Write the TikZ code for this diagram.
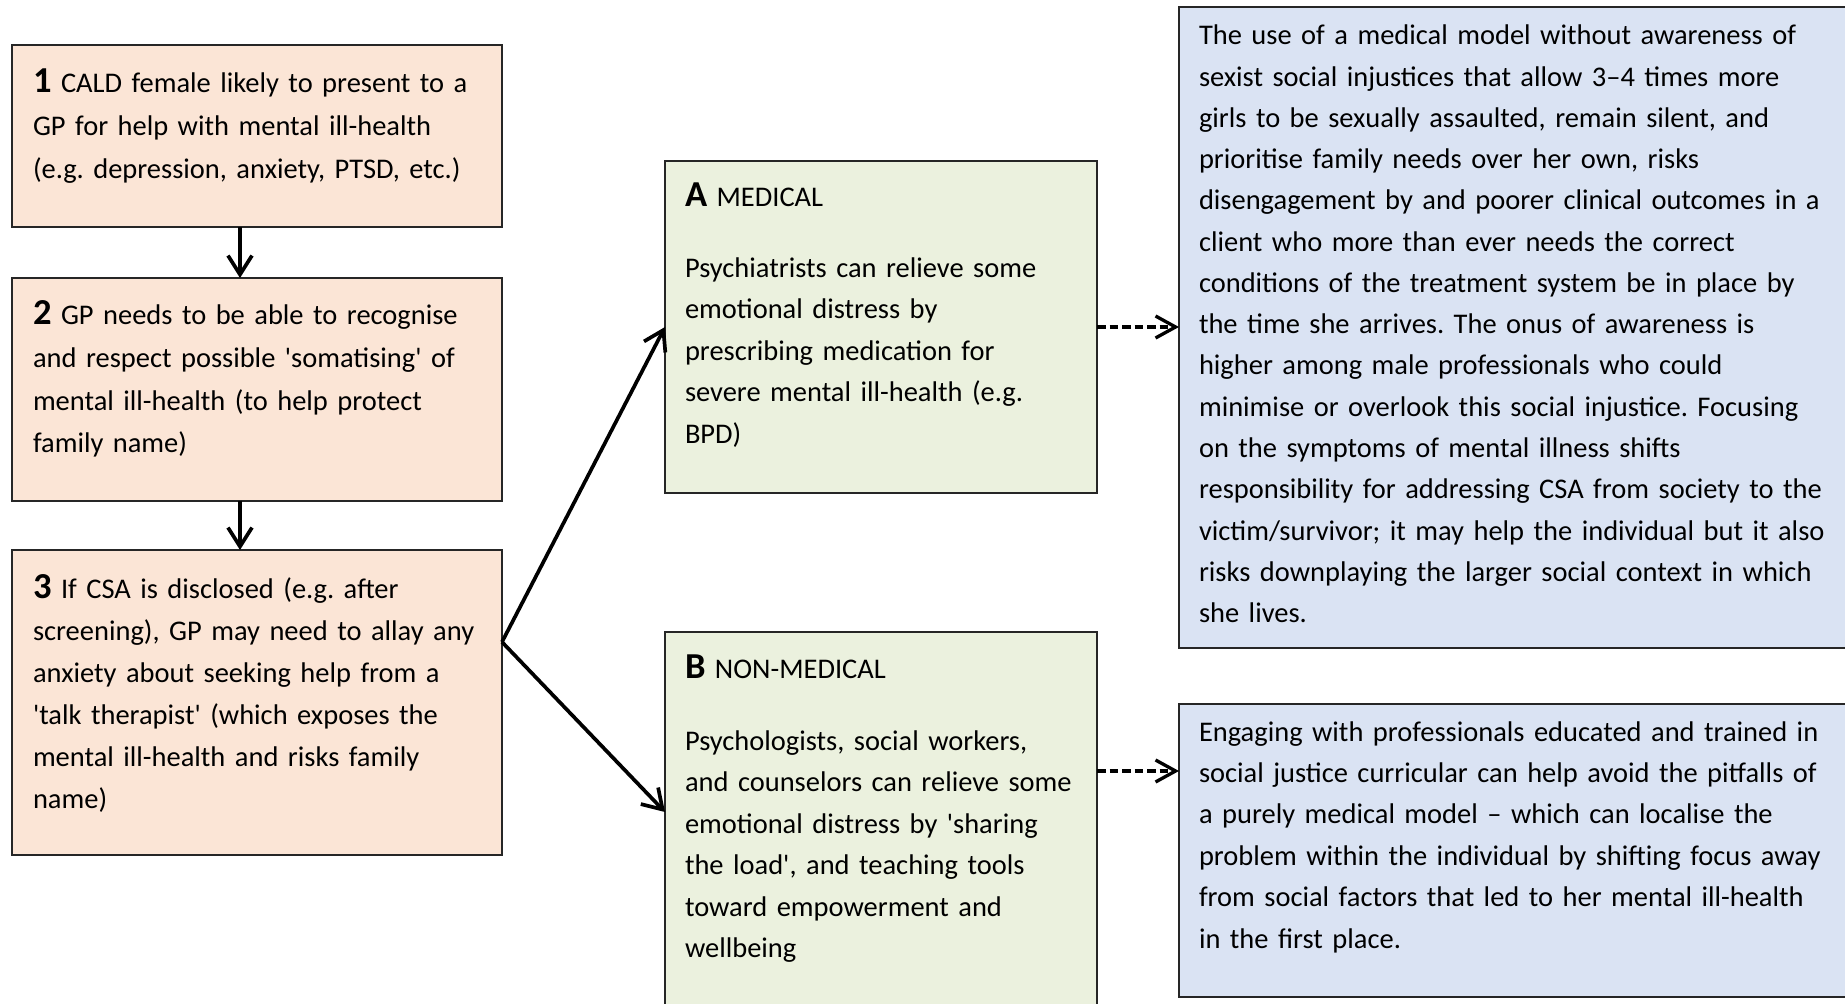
\documentclass[tikz,border=0pt]{standalone}
\usepackage{fontspec}
\setmainfont{Carlito}
\usepackage{xcolor}
\usetikzlibrary{arrows.meta, positioning, calc}
\definecolor{pastelpeach}{HTML}{FBE5D6}
\definecolor{pastelolive}{HTML}{EBF1DE}
\definecolor{pastelblue}{HTML}{DAE3F3}
\newcommand{\squote}{\textquotesingle}
\newcommand{\bignum}[1]{{\fontsize{10.4}{11.8}\selectfont\bfseries #1}}
\frenchspacing

\begin{document}
\begin{tikzpicture}[x=0.1mm, y=-0.1mm,
	every node/.style={inner sep=0pt, outer sep=0pt},
	stepbox/.style={draw=black!85, line width=0.4pt, fill=pastelpeach, anchor=north west, minimum width=49mm},
	carebox/.style={draw=black!85, line width=0.4pt, fill=pastelolive, anchor=north west, minimum width=43.2mm},
	notebox/.style={draw=black!85, line width=0.4pt, fill=pastelblue, anchor=north west, minimum width=70mm},
	boxtext/.style={anchor=north west, align=left, text width=#1, font=\fontsize{8.1}{11.8}\selectfont},
	steptext/.style={boxtext=#1, font=\fontsize{8.1}{12.15}\selectfont},
	flow/.style={line width=1.05pt, -{Straight Barb[length=1.9mm, width=2.4mm]}},
	link/.style={line width=0.95pt, dash pattern=on 0.85mm off 0.4mm, -{Straight Barb[length=2mm, width=2.2mm]}}]
	\useasboundingbox (0,0) rectangle (1845,1004);
	\clip (0,0) rectangle (1845,1004);

	% left column: steps
	\node[stepbox, minimum height=18.2mm] (p1) at (12,45) {};
	\node[stepbox, minimum height=22.3mm] (p2) at (12,278) {};
	\node[stepbox, minimum height=30.5mm] (p3) at (12,550) {};
	\node[steptext=55mm] (t1) at (33,63) {\strut\bignum{1} CALD female likely to present to a\\ GP for help with mental ill-health\\ (e.g. depression, anxiety, PTSD, etc.)};
	\node[steptext=55mm] (t2) at (33,295) {\strut\bignum{2} GP needs to be able to recognise\\ and respect possible \squote somatising\squote{} of\\ mental ill-health (to help protect\\ family name)};
	\node[steptext=55mm, font=\fontsize{8.1}{11.95}\selectfont] (t3) at (33,569) {\strut\bignum{3} If CSA is disclosed (e.g. after\\ screening), GP may need to allay any\\ anxiety about seeking help from a\\ \squote talk therapist\squote{} (which exposes the\\ mental ill-health and risks family\\ name)};

	% middle column: options
	\node[carebox, minimum height=33.2mm] (A) at (665,161) {};
	\node[carebox, minimum height=40mm] (B) at (665,632) {};
	\node[boxtext=48mm] (tA) at (685,177) {\strut\bignum{A} MEDICAL\\[3mm] Psychiatrists can relieve some\\ emotional distress by\\ prescribing medication for\\ severe mental ill-health (e.g.\\ BPD)};
	\node[boxtext=48mm] (tB) at (685,649) {\strut\bignum{B} NON-MEDICAL\\[3.1mm] Psychologists, social workers,\\ and counselors can relieve some\\ emotional distress by \squote sharing\\ the load\squote, and teaching tools\\ toward empowerment and\\ wellbeing};

	% right column: notes
	\node[notebox, minimum height=64.1mm] (T) at (1179,7) {};
	\node[notebox, minimum height=29.3mm] (S) at (1179,704) {};
	\node[boxtext=70mm, font=\fontsize{8.1}{11.74}\selectfont] (tT) at (1199,16) {\strut The use of a medical model without awareness of\\ sexist social injustices that allow 3--4 times more\\ girls to be sexually assaulted, remain silent, and\\ prioritise family needs over her own, risks\\ disengagement by and poorer clinical outcomes in a\\ client who more than ever needs the correct\\ conditions of the treatment system be in place by\\ the time she arrives. The onus of awareness is\\ higher among male professionals who could\\ minimise or overlook this social injustice. Focusing\\ on the symptoms of mental illness shifts\\ responsibility for addressing CSA from society to the\\ victim/survivor; it may help the individual but it also\\ risks downplaying the larger social context in which\\ she lives.};
	\node[boxtext=70mm] (tS) at (1199,712) {\strut Engaging with professionals educated and trained in\\ social justice curricular can help avoid the pitfalls of\\ a purely medical model -- which can localise the\\ problem within the individual by shifting focus away\\ from social factors that led to her mental ill-health\\ in the first place.};

	% connectors
	\draw[flow] ([xshift=-1.7mm]p1.south) -- ([xshift=-1.7mm]p2.north);
	\draw[flow] ([xshift=-1.7mm]p2.south) -- ([xshift=-1.7mm]p3.north);
	\coordinate (fork) at ([yshift=-9.2mm]p3.north east);
	\draw[flow] (fork) -- (A.west);
	\draw[flow] (fork) -- ([yshift=-18mm]B.north west);
	\draw[link] (A.east) -- (A.east -| T.west);
	\coordinate (bout) at ([yshift=-13.9mm]B.north east);
	\draw[link] (bout) -- (bout -| S.west);
\end{tikzpicture}
\end{document}
